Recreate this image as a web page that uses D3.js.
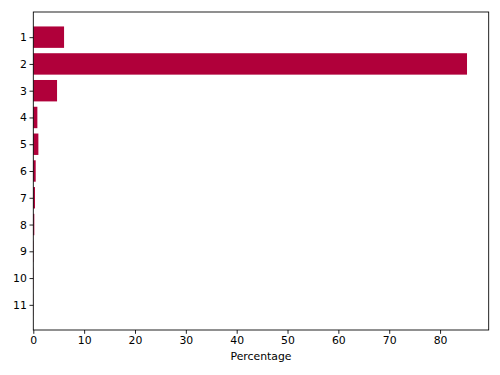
<!DOCTYPE html>
<html><head><meta charset="utf-8">
<script src="https://cdn.jsdelivr.net/npm/d3@7"></script>
<style>body{margin:0;background:#fff}svg{display:block}text{font-family:"DejaVu Sans",sans-serif}</style>
</head><body>
<script>
const categories = ["1","2","3","4","5","6","7","8","9","10","11"];
const values = [6.05, 85.3, 4.67, 0.8, 1.0, 0.47, 0.33, 0.2, 0.05, 0.03, 0.02];
const xTicks = [0,10,20,30,40,50,60,70,80];
const xLabel = "Percentage";

const W=500,H=375, L=33.3, R=488.7, T=12, B=330;
const fs = 10.85;
const svg = d3.select("body").append("svg").attr("width",W).attr("height",H);
const xmax = d3.max(values)*1.05;
const x = d3.scaleLinear().domain([0,xmax]).range([L,R]);
const y = d3.scaleLinear().domain([-0.94,10.94]).range([T,B]);
const bh = (y(0.4)-y(-0.4));

svg.append("g").selectAll("rect").data(values).join("rect")
  .attr("x",x(0)).attr("y",(d,i)=>y(i)-bh/2)
  .attr("width",d=>x(d)-x(0)).attr("height",bh)
  .attr("fill","#b0003a");

const xa = d3.axisBottom(x).tickValues(xTicks).tickSize(3.8).tickPadding(2.7).tickFormat(d3.format("d"));
const gx = svg.append("g").attr("transform",`translate(0,${B})`).call(xa);
const ya = d3.axisLeft(y).tickValues(d3.range(categories.length)).tickSize(3.8).tickPadding(2.7).tickFormat(i=>categories[i]);
const gy = svg.append("g").attr("transform",`translate(${L},0)`).call(ya);
[gx,gy].forEach(g=>{
  g.select(".domain").remove();
  g.selectAll("line").attr("stroke","#000").attr("stroke-width",0.87);
  g.selectAll("text").attr("font-size",fs).attr("fill","#000").attr("font-family","DejaVu Sans");
});
svg.append("rect").attr("x",L).attr("y",T).attr("width",R-L).attr("height",B-T)
  .attr("fill","none").attr("stroke","#000").attr("stroke-width",0.87);
svg.append("text").attr("x",(L+R)/2).attr("y",360).attr("text-anchor","middle")
  .attr("font-size",fs).text(xLabel);
</script>
</body></html>
